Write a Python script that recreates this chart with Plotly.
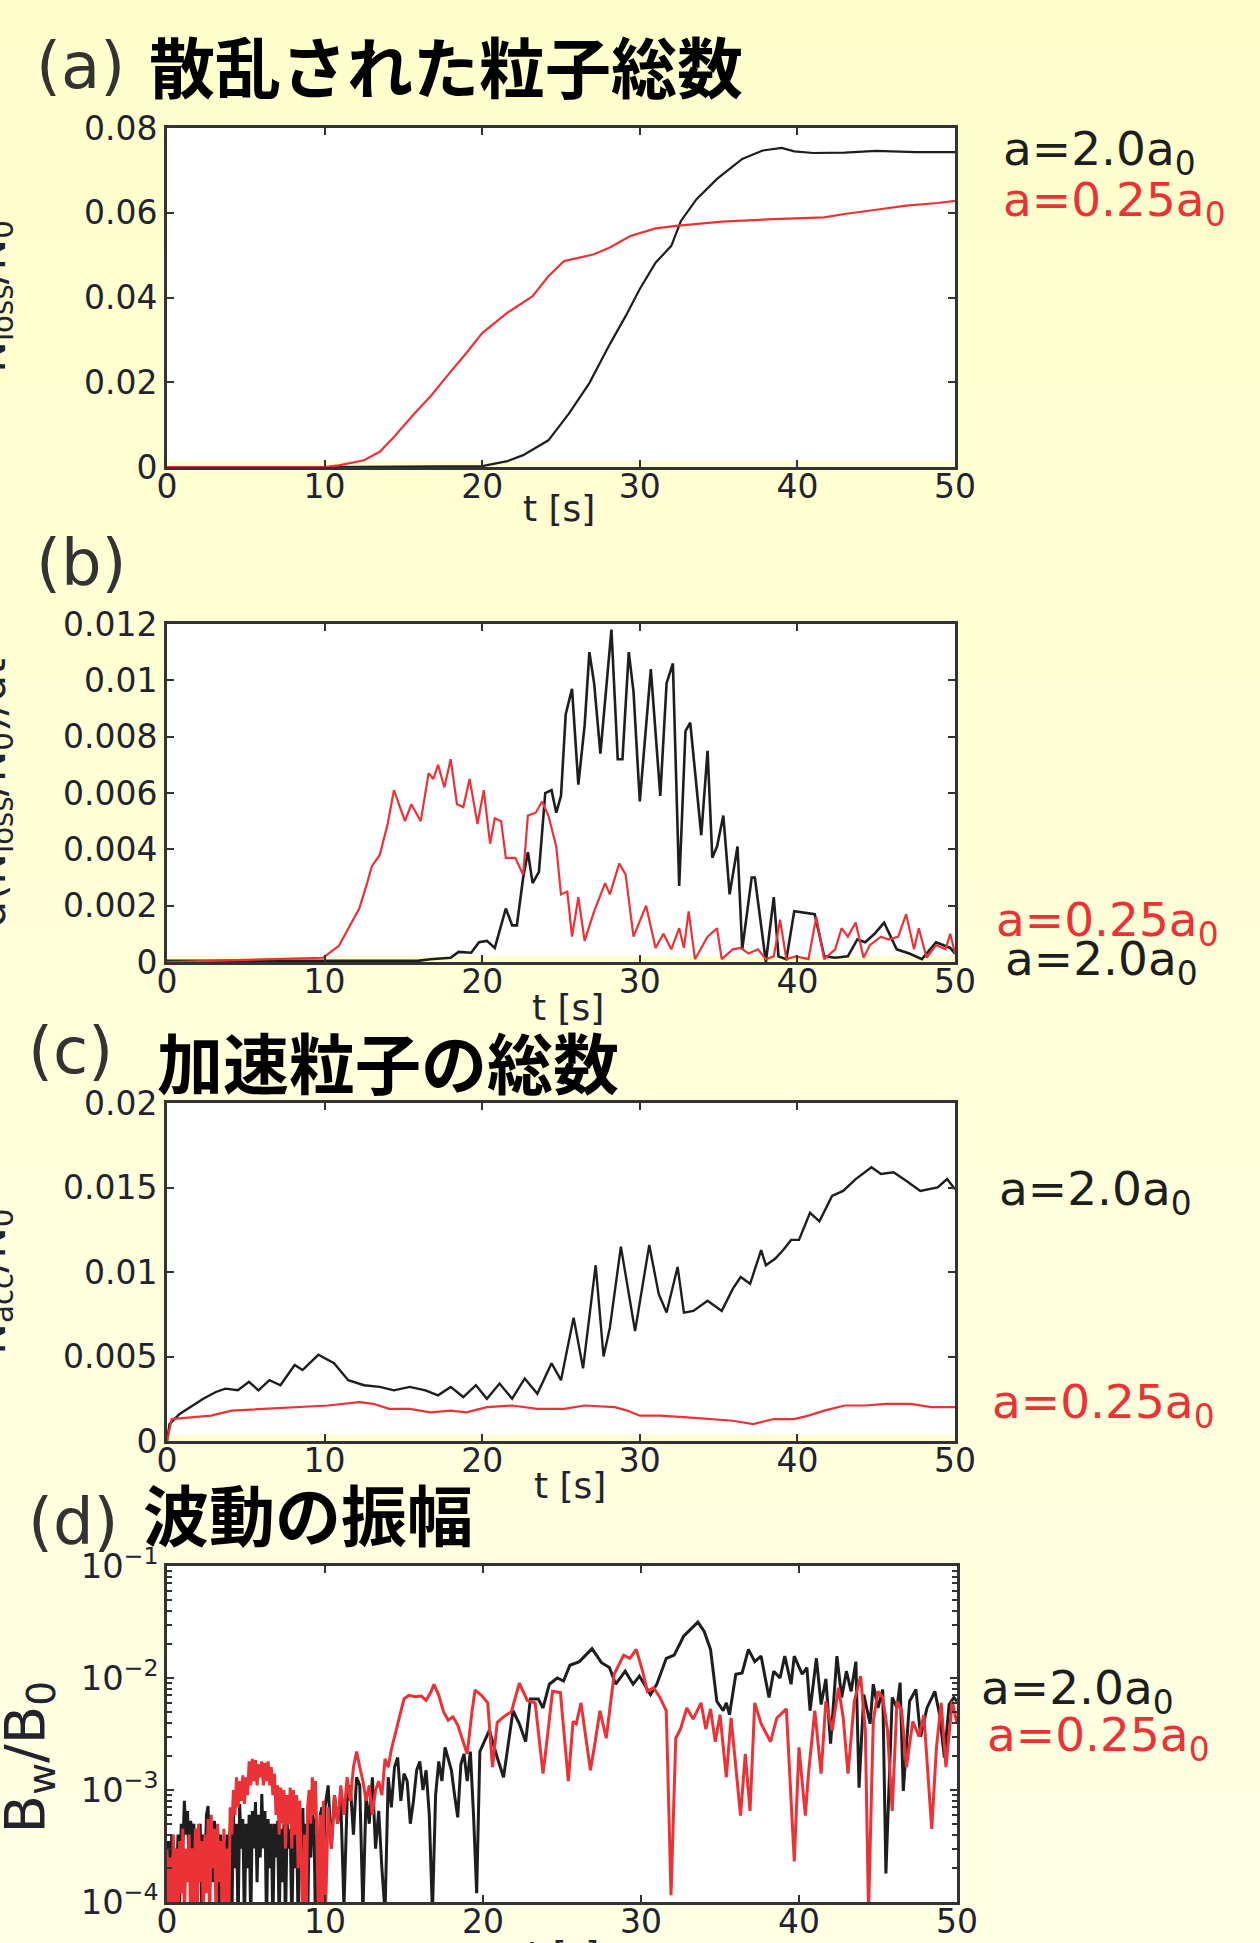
import plotly.graph_objects as go

# ---------------- data ----------------
# (a) total number of scattered particles, N_loss / N_0
ta_black = [0, 10, 20, 21.6, 22.6, 24.2, 25.5, 26.8, 28.1, 29.1, 30, 31, 32, 32.6, 33.6,
            34.9, 36.5, 37.8, 39, 39.8, 41, 43, 45, 47.5, 50]
na_black = [0, 0, 0.0002, 0.0014, 0.0028, 0.0063, 0.0126, 0.0198, 0.029, 0.0356, 0.042,
            0.0482, 0.0522, 0.058, 0.0632, 0.068, 0.0727, 0.0747, 0.0753, 0.0745, 0.0741,
            0.0742, 0.0746, 0.0743, 0.0743]
ta_red = [0, 10, 10.9, 12.5, 13.5, 14.4, 15.7, 16.7, 18, 19, 20, 21.6, 23.2, 24.2, 25.2,
          27.1, 28.1, 29.4, 31, 32.3, 35.2, 38.5, 41.7, 43, 45, 46.9, 48.9, 50]
na_red = [0, 0, 0.0004, 0.0016, 0.0036, 0.0071, 0.0126, 0.0166, 0.0225, 0.0269, 0.0316,
          0.0364, 0.0403, 0.045, 0.0486, 0.0502, 0.0518, 0.0545, 0.0563, 0.0569, 0.0579,
          0.0585, 0.0589, 0.0597, 0.0607, 0.0617, 0.0623, 0.0628]

# (b) loss rate, d(N_loss/N_0)/dt
tb_red = [0, 9.9, 10.9, 11.5, 12.2, 12.7, 13, 13.5, 14, 14.4, 15.1, 15.5, 16.1, 16.6, 16.9,
          17.2, 17.6, 18, 18.4, 18.8, 19.2, 19.7, 20.1, 20.5, 20.8, 21.2, 21.5, 22.1, 22.6,
          22.9, 23.4, 23.8, 24.2, 24.7, 25, 25.4, 25.7, 26.1, 26.5, 27.1, 27.8, 28.1, 28.7,
          29.1, 29.6, 30.4, 31, 31.5, 32, 32.5, 32.8, 33.1, 33.5, 34.3, 34.9, 35.2, 35.9,
          36.4, 36.9, 37.5, 38, 38.5, 38.9, 39.3, 39.9, 40.7, 41.2, 41.7, 42.4, 42.8, 43.2,
          43.7, 44.2, 44.6, 45.3, 45.8, 46.4, 46.9, 47.4, 47.7, 48.2, 48.8, 49.4, 49.7, 50]
rb_red = [0, 0.00015, 0.00057, 0.0012, 0.0019, 0.0028, 0.0034, 0.0038, 0.0049, 0.0061,
          0.005, 0.0056, 0.005, 0.0067, 0.0065, 0.007, 0.0062, 0.0072, 0.0056, 0.0055,
          0.0065, 0.0049, 0.0061, 0.0042, 0.0051, 0.005, 0.0037, 0.0037, 0.0031, 0.0052,
          0.0053, 0.0057, 0.0052, 0.0041, 0.0024, 0.0025, 0.0009, 0.0023, 0.00075, 0.0018,
          0.0028, 0.0024, 0.0035, 0.0031, 0.0009, 0.002, 0.0005, 0.001, 0.00045, 0.0012,
          0.0005, 0.0018, 0.0001, 0.0009, 0.0012, 0.0001, 0.00045, 0.0005, 0.0003, 0.00045,
          0.0001, 0.0002, 0.0015, 0.0001, 0.0002, 0.0001, 0.0016, 0.0001, 0.00045, 0.0012,
          0.0009, 0.0014, 0.00015, 0.0006, 0.0009, 0.0008, 0.0009, 0.0017, 0.00045, 0.0012,
          0.00015, 0.0006, 0.00045, 0.001, 0.0003]
tb_black = [0, 16, 16.7, 18, 18.5, 19.3, 19.8, 20.3, 20.8, 21.2, 21.5, 21.9, 22.2, 22.6,
            22.9, 23.2, 23.6, 24, 24.4, 24.7, 25, 25.3, 25.7, 26.1, 26.5, 26.8, 27.1, 27.5,
            27.8, 28.2, 28.6, 28.9, 29.3, 29.6, 30, 30.4, 30.7, 30.9, 31.3, 31.7, 32.1,
            32.5, 32.9, 33.2, 33.9, 34.3, 34.6, 34.9, 35.3, 35.7, 36.2, 36.5, 37.1, 37.3,
            38, 38.5, 38.8, 39.3, 39.8, 41.1, 41.7, 42.4, 43.2, 43.8, 44.3, 44.9, 45.5,
            46.3, 47.1, 47.9, 48.8, 49.7, 50]
rb_black = [0.00004, 0.00005, 0.0001, 0.00015, 0.00036, 0.00033, 0.0007, 0.00075, 0.0005,
            0.0013, 0.0019, 0.0013, 0.0013, 0.003, 0.0039, 0.0028, 0.0032, 0.006, 0.0061,
            0.0053, 0.0059, 0.0088, 0.0097, 0.0063, 0.0084, 0.011, 0.0099, 0.0074, 0.0094,
            0.0118, 0.0072, 0.0072, 0.011, 0.0096, 0.0057, 0.0083, 0.0104, 0.0089, 0.0059,
            0.0099, 0.0106, 0.0027, 0.0082, 0.0085, 0.0045, 0.0075, 0.0037, 0.0041, 0.0052,
            0.0024, 0.0041, 0.00045, 0.003, 0.003, 0, 0.0023, 0.0002, 0.0001, 0.0018,
            0.0017, 0.0002, 0.00015, 0.0002, 0.0008, 0.0007, 0.001, 0.0014, 0.00045,
            0.0003, 0.0001, 0.0007, 0.0005, 0.0003]

# (c) total number of accelerated particles, N_acc / N_0
tc_black = [0, 0.16, 0.8, 1.5, 2.3, 3.1, 3.7, 4.5, 5.2, 5.8, 6.5, 7.2, 8.1, 8.6, 9.6, 10.6,
            11.5, 12.5, 13.5, 14.4, 15.4, 16.4, 17.2, 18, 18.8, 19.6, 20.3, 21.1, 21.9,
            22.7, 23.5, 24.4, 25, 25.8, 26.4, 27.2, 27.7, 28.1, 28.8, 29.7, 30.6, 31.2,
            31.7, 32.4, 32.8, 33.4, 34.3, 35.2, 35.9, 36.4, 37, 37.7, 38, 38.6, 39.1, 39.6,
            40.1, 40.8, 41.4, 42.2, 42.9, 43.7, 44.7, 45.3, 46.1, 46.9, 47.8, 48.9, 49.5, 50]
nc_black = [0, 0.001, 0.0016, 0.002, 0.0025, 0.0029, 0.0031, 0.003, 0.0035, 0.003, 0.0036,
            0.0033, 0.0045, 0.0042, 0.0051, 0.0046, 0.0036, 0.0033, 0.0032, 0.003, 0.0032,
            0.003, 0.0027, 0.0032, 0.0026, 0.0033, 0.0025, 0.0034, 0.0025, 0.0037, 0.0028,
            0.0046, 0.0036, 0.0073, 0.0043, 0.0104, 0.005, 0.0067, 0.0115, 0.0065, 0.0116,
            0.0087, 0.0076, 0.0103, 0.0076, 0.0077, 0.0083, 0.0077, 0.009, 0.0097, 0.0093,
            0.0113, 0.0104, 0.0108, 0.0113, 0.0119, 0.0119, 0.0135, 0.013, 0.0145, 0.0148,
            0.0155, 0.0162, 0.0158, 0.0159, 0.0154, 0.0148, 0.015, 0.0155, 0.0149]
tc_red = [0, 0.3, 1.5, 2.8, 4.1, 6, 8, 10.2, 12.2, 13.1, 14.1, 15.4, 16.7, 18, 19, 20.3,
          21.9, 23.5, 25.2, 26.5, 28.4, 29.2, 30, 31.3, 33, 34.6, 35.9, 37.2, 38.5, 39.8,
          40.7, 41.7, 43, 44.3, 45.6, 47.2, 48.5, 50]
nc_red = [0, 0.0013, 0.0014, 0.0015, 0.0018, 0.0019, 0.002, 0.0021, 0.0023, 0.0022, 0.0019,
          0.0019, 0.0017, 0.0018, 0.0017, 0.002, 0.0021, 0.0019, 0.0019, 0.0021, 0.002,
          0.0018, 0.0015, 0.0015, 0.0014, 0.0013, 0.0012, 0.001, 0.0013, 0.0013, 0.0015,
          0.0018, 0.0021, 0.0021, 0.0022, 0.0022, 0.002, 0.002]

# (d) wave amplitude, B_w / B_0
td_red = [0, 0.1, 0.2, 0.3, 0.4, 0.5, 0.6, 0.7, 0.8, 0.9, 1, 1.1, 1.2, 1.3, 1.4, 1.5, 1.6,
          1.7, 1.8, 1.9, 2, 2.1, 2.2, 2.3, 2.4, 2.5, 2.6, 2.7, 2.8, 2.9, 3, 3.1, 3.2, 3.3,
          3.4, 3.5, 3.6, 3.7, 3.8, 3.9, 4, 4.1, 4.2, 4.3, 4.4, 4.5, 4.6, 4.7, 4.8, 4.9, 5,
          5.1, 5.2, 5.3, 5.4, 5.5, 5.6, 5.7, 5.8, 5.9, 6, 6.1, 6.2, 6.3, 6.4, 6.5, 6.6, 6.7,
          6.8, 6.9, 7, 7.1, 7.2, 7.3, 7.4, 7.5, 7.6, 7.7, 7.8, 7.9, 8, 8.1, 8.2, 8.3, 8.4,
          8.5, 8.6, 8.7, 8.8, 8.9, 9, 9.1, 9.2, 9.3, 9.4, 9.5, 9.6, 9.7, 9.8, 9.9,
          10, 10.2, 10.4, 10.6, 10.8, 11, 11.2, 11.4, 11.6, 11.8, 12, 12.2, 12.4, 12.6,
          12.8, 13, 13.2, 13.4, 13.6, 13.8, 14, 14.2,
          14.4, 14.7, 15, 15.3, 15.7, 16.1, 16.4, 16.7, 16.9, 17.2, 17.5, 17.8, 18.1,
          18.4, 18.7, 19, 19.3, 19.5, 19.9, 20.3, 20.6, 20.9, 21.3, 21.8, 22.3, 22.8, 23.3,
          23.6, 23.8, 24.1, 24.4, 24.9, 25.4, 25.7, 25.9, 26.2, 26.8, 27.1, 27.4, 27.8,
          28.3, 28.9, 29.3, 29.7, 30.1, 30.4, 30.8, 31.2, 31.6, 31.9, 32.2, 32.5, 32.9,
          33.3, 33.8, 34.1, 34.4, 34.7, 35, 35.4, 35.7, 36.3, 36.6, 36.9, 37.2, 37.6, 38.2,
          38.6, 39.2, 39.7, 40, 40.4, 40.6, 41, 41.4, 41.7, 42.1, 42.5, 42.8, 43.1, 43.5,
          43.9, 44.2, 44.4, 44.7, 45, 45.3, 45.6, 45.9, 46.2, 46.5, 46.8, 47.2, 47.6, 47.9,
          48.4, 48.7, 49, 49.3, 49.7, 50]
bd_red = [3e-4, 8e-5, 2.5e-4, 5e-5, 4e-4, 1e-4, 3e-4, 6e-5, 3.5e-4, 1.2e-4,
          4.5e-4, 7e-5, 3e-4, 1.5e-4, 4e-4, 6e-5, 3e-4, 1e-4, 4.5e-4, 5e-5,
          5e-4, 1.5e-4, 3.5e-4, 7e-5, 4e-4, 1.2e-4, 5.5e-4, 6e-5, 6e-4, 2e-4,
          4.5e-4, 8e-5, 5e-4, 1.5e-4, 3.5e-4, 6e-5, 4.5e-4, 1e-4, 3e-4, 5e-5,
          7e-4, 4e-4, 1e-3, 6e-4, 1.3e-3, 7e-4, 1.2e-3, 8e-4, 1.35e-3, 7.5e-4,
          1.3e-3, 9e-4, 1.8e-3, 1.1e-3, 1.9e-3, 1.2e-3, 1.85e-3, 1.1e-3, 1.7e-3, 1.3e-3,
          1.8e-3, 1.1e-3, 1.75e-3, 1.2e-3, 1.8e-3, 1.1e-3, 1.6e-3, 9e-4, 1.4e-3, 6e-4,
          1.1e-3, 4e-4, 1.05e-3, 5e-4, 1e-3, 3e-4, 9e-4, 5e-4, 1.05e-3, 3e-4,
          1e-3, 4e-4, 9e-4, 2e-4, 8e-4, 3e-4, 6e-5, 4e-4, 5e-5, 7e-4,
          1e-3, 5e-4, 1.3e-3, 6e-4, 1.2e-3, 3e-4, 5e-5, 6e-4, 4e-5, 8e-4,
          5e-5, 7e-4, 3e-4, 9e-4, 5e-4, 1.1e-3, 6e-4, 1.3e-3, 8e-4, 1.6e-3,
          2.2e-3, 1.6e-3, 1.2e-3, 8e-4, 1.1e-3, 6e-4, 1e-3, 1.2e-3, 9e-4, 1.9e-3,
          1.6e-3, 2.3e-3,
          3e-3, 4.5e-3, 6.5e-3, 7e-3, 6.8e-3, 6.9e-3, 6.3e-3, 7.5e-3, 8.8e-3, 7e-3,
          5e-3, 4.2e-3, 4.5e-3, 3.8e-3, 2.8e-3, 2.1e-3, 5e-3, 7.8e-3, 7e-3, 6e-3,
          1.6e-3, 4e-3, 4.5e-3, 5e-3, 9e-3, 6.3e-3, 6e-3,
          2.6e-3, 1.4e-3, 3.2e-3, 7.6e-3, 7.4e-3, 1.2e-3, 4.1e-3, 3.9e-3, 6e-3, 1.5e-3,
          2.7e-3, 5.1e-3, 2.9e-3, 1.08e-2, 1.6e-2, 1.5e-2, 1.8e-2, 1.15e-2, 7.6e-3, 8.2e-3,
          6.7e-3, 5.1e-3, 1.15e-4, 2.9e-3, 3.5e-3, 5.4e-3, 4.3e-3, 6e-3, 3.5e-3, 5.3e-3,
          2.7e-3, 4.7e-3, 1.3e-3, 4.4e-3, 5.9e-4, 2.1e-3, 6.5e-4, 6e-3, 3.9e-3, 2.7e-3,
          4.4e-3, 5.3e-3, 2.3e-4, 2.4e-3, 5.9e-4, 1.4e-3, 5.1e-3, 1.4e-3, 6.2e-3, 3.4e-3,
          8.2e-3, 4.4e-3, 1.4e-3, 6.2e-3, 1.04e-2, 3.4e-3, 8e-5, 4.1e-3, 7.6e-3, 6.7e-3,
          3.4e-3, 6.5e-4, 6.2e-3, 5.1e-3, 1.6e-3, 4.1e-3, 3e-3, 4.7e-3, 4.5e-4, 2.4e-3,
          6e-3, 1.6e-3, 6.2e-3, 3.9e-3]
td_black = [0, 0.1, 0.2, 0.3, 0.4, 0.5, 0.6, 0.7, 0.8, 0.9, 1, 1.1, 1.2, 1.3, 1.4, 1.5,
            1.6, 1.7, 1.8, 1.9, 2, 2.1, 2.2, 2.3, 2.4, 2.5, 2.6, 2.7, 2.8, 2.9, 3, 3.1, 3.2,
            3.3, 3.4, 3.5, 3.6, 3.7, 3.8, 3.9, 4, 4.1, 4.2, 4.3, 4.4, 4.5, 4.6, 4.7, 4.8,
            4.9, 5, 5.1, 5.2, 5.3, 5.4, 5.5, 5.6, 5.7, 5.8, 5.9, 6, 6.1, 6.2, 6.3, 6.4, 6.5,
            6.6, 6.7, 6.8, 6.9, 7, 7.1, 7.2, 7.3, 7.4, 7.5, 7.6, 7.7, 7.8, 7.9, 8, 8.1, 8.2,
            8.3, 8.4, 8.5, 8.6, 8.7, 8.8, 8.9, 9, 9.1, 9.2, 9.3, 9.4, 9.5, 9.6, 9.7, 9.8,
            9.9,
            10, 10.2, 10.4, 10.6, 10.8, 11, 11.2, 11.4, 11.6, 11.8, 12, 12.2, 12.4, 12.6,
            12.8, 13, 13.2, 13.4, 13.6, 13.8, 14, 14.2, 14.4, 14.6, 14.8, 15, 15.2, 15.4,
            15.6, 15.8, 16, 16.2, 16.4, 16.6, 16.8, 17, 17.2, 17.4, 17.6, 17.8, 18, 18.2,
            18.4, 18.6, 18.8, 19, 19.2, 19.4, 19.6, 19.8,
            20.4, 20.9, 21.3, 21.9, 22.3, 22.7, 23, 23.5, 23.8, 24.2,
            24.7, 25.1, 25.5, 26.1, 26.9, 27.5, 28, 28.4, 29, 29.5, 29.9, 30.6, 31, 31.6,
            32.1, 32.7, 33.6, 34, 34.4, 34.8, 35.2, 35.4, 35.6, 36, 36.4, 36.8, 37.2, 37.6,
            38.1, 38.4, 38.8, 39.1, 39.5, 39.7, 40.2, 40.5, 40.7, 41.1, 41.4, 41.7, 42,
            42.4, 42.7, 43, 43.3, 43.6, 43.8, 44.1, 44.5, 44.7, 45, 45.3, 45.5, 45.9, 46.2,
            46.4, 46.6, 47, 47.4, 47.7, 48.1, 48.6, 48.9, 49.2, 49.5, 49.8, 50]
bd_black = [2e-4, 3.5e-4, 1.2e-4, 4e-4, 8e-5, 3e-4, 1.5e-4, 4e-4, 1e-4, 5e-4,
            3e-4, 8e-4, 4e-4, 6.5e-4, 2e-4, 5.3e-4, 3e-4, 5e-4, 1.2e-4, 4.5e-4,
            2e-4, 5e-4, 8e-5, 4e-4, 2e-4, 6e-4, 7.2e-4, 2.5e-4, 5e-4, 1.5e-4,
            5.3e-4, 3e-4, 4.5e-4, 7e-5, 4e-4, 1.5e-4, 3.5e-4, 6e-5, 4e-4, 1e-4,
            5e-4, 6e-5, 6e-4, 2e-4, 5e-4, 6e-5, 7.5e-4, 3e-4, 5.5e-4, 6e-5,
            5e-4, 2e-4, 6e-4, 6e-5, 6.5e-4, 3e-4, 7.8e-4, 1.5e-4, 6e-4, 2.5e-4,
            9.2e-4, 3e-4, 6.5e-4, 6e-5, 5.5e-4, 2e-4, 5e-4, 6e-5, 5e-4, 2.5e-4,
            5.3e-4, 6e-5, 4.5e-4, 1.5e-4, 5e-4, 6e-5, 5.3e-4, 3e-4, 4.5e-4, 6e-5,
            4e-4, 2e-4, 5.5e-4, 6e-5, 5e-4, 3e-4, 6.9e-4, 1.2e-4, 5e-4, 6e-5,
            5.5e-4, 2.5e-4, 6.5e-4, 5e-4, 6e-5, 4e-4, 1.5e-4, 6e-4, 7e-4, 2e-4,
            7e-4, 1.1e-3, 3e-4, 9e-4, 5e-4, 8e-4, 9e-5, 8e-4, 1.1e-3, 4e-4,
            1.3e-3, 1.1e-3, 8e-5, 9e-4, 5e-4, 1.3e-3, 3e-4, 6.5e-4, 2e-4, 8e-5,
            1.3e-3, 7e-4, 1.6e-3, 1.95e-3, 8e-4, 1.4e-3, 1.2e-3, 5e-4, 8e-4, 1.5e-3,
            1.8e-3, 1e-3, 1.5e-3, 6e-4, 8e-5, 9e-4, 1.8e-3, 1.2e-3, 2.4e-3, 1.9e-3,
            1.5e-3, 9e-4, 5.7e-4, 1.7e-3, 2.1e-3, 1.2e-3, 2.2e-3, 6e-4, 1.2e-4, 2.2e-3,
            3.4e-3, 1.95e-3, 1.3e-3, 5.1e-3, 3.9e-3, 2.7e-3, 6.5e-3, 6.5e-3, 5.4e-3, 8.8e-3,
            1e-2, 9.4e-3, 1.3e-2, 1.4e-2, 1.83e-2, 1.37e-2, 1.24e-2, 8.8e-3, 1.15e-2, 8.8e-3,
            1.04e-2, 7.1e-3, 8.8e-3, 1.5e-2, 1.6e-2, 2.36e-2, 3.15e-2, 2.6e-2, 1.8e-2, 6.2e-3,
            5.1e-3, 6e-3, 4.7e-3, 1.08e-2, 1.11e-2, 1.8e-2, 1.4e-2, 1.57e-2, 6.7e-3, 1.15e-2,
            1e-2, 1.57e-2, 8.8e-3, 1.57e-2, 1.08e-2, 1.24e-2, 5.1e-3, 1.5e-2, 5.8e-3, 9.8e-3,
            2.6e-3, 1.57e-2, 6.7e-3, 1.15e-2, 7.6e-3, 1.4e-2, 1.05e-3, 7.1e-3, 3.9e-3, 8.8e-3,
            5.4e-3, 7.9e-3, 1.8e-4, 6.7e-3, 5.4e-3, 9.1e-3, 9.8e-4, 6.2e-3, 7.9e-3, 3e-3,
            5.4e-3, 7.6e-3, 4.7e-3, 1.95e-3, 5.8e-3, 6.7e-3, 6.2e-3]

for xs, ys in [(ta_black, na_black), (ta_red, na_red), (tb_red, rb_red),
               (tb_black, rb_black), (tc_black, nc_black), (tc_red, nc_red),
               (td_red, bd_red), (td_black, bd_black)]:
    assert len(xs) == len(ys), (len(xs), len(ys))

# ---------------- styling ----------------
W, H = 1260, 1943
RED = "#EB3236"
BLACK = "#1E1E1E"
AXIS = "#333333"
TEXT = "#23232F"
LATIN = "DejaVu Sans"
CJK = "Noto Sans CJK JP"


def fx(px):
    return px / W


def fy(py):
    return 1 - py / H


# plot boxes in pixels: left, right, top, bottom
boxes = {
    "": (167, 955, 128, 467),
    "2": (167, 955, 624, 962),
    "3": (167, 955, 1103, 1441),
    "4": (167, 957, 1566, 1902),
}


def axis_style():
    return dict(showline=True, linecolor=AXIS, linewidth=3, mirror="allticks",
                ticks="inside", ticklen=7, tickwidth=2, tickcolor=AXIS,
                showgrid=False, zeroline=False, automargin=False,
                tickfont=dict(family=LATIN, size=33, color=TEXT))


layout = dict(
    width=W, height=H, autosize=False,
    margin=dict(l=0, r=0, t=0, b=0, pad=0, autoexpand=False),
    paper_bgcolor="#FFFFD4",
    plot_bgcolor="rgba(0,0,0,0)",
    showlegend=False,
)

yranges = {"": [0, 0.08], "2": [0, 0.012], "3": [0, 0.02]}
ydticks = {"": 0.02, "2": 0.002, "3": 0.005}

for k, (l, r, t, b) in boxes.items():
    xa = axis_style()
    xa.update(domain=[fx(l), fx(r)], anchor="y" + k, range=[0, 50], dtick=10, tick0=0,
              ticklabelstandoff=-12)
    ya = axis_style()
    ya.update(domain=[fy(b), fy(t)], anchor="x" + k)
    if k == "4":
        ya.update(type="log", range=[-4, -1], dtick=1, exponentformat="power",
                  showexponent="all", tickfont=dict(family=LATIN, size=27, color=TEXT),
                  minor=dict(ticks="inside", ticklen=5, tickwidth=2, tickcolor=AXIS,
                             dtick="D1", showgrid=False))
    else:
        ya.update(range=yranges[k], dtick=ydticks[k], tick0=0)
    layout["xaxis" + k] = xa
    layout["yaxis" + k] = ya

# slide background: soft vertical yellow gradient, white plot areas on top
shapes = []
nb = 40
top_c, bot_c = (255, 255, 204), (255, 255, 228)
for i in range(nb):
    f = i / (nb - 1)
    c = tuple(round(top_c[j] + (bot_c[j] - top_c[j]) * f) for j in range(3))
    shapes.append(dict(type="rect", xref="paper", yref="paper", x0=0, x1=1,
                       y0=1 - (i + 1) / nb - 0.002, y1=1 - i / nb,
                       fillcolor="rgb(%d,%d,%d)" % c, line=dict(width=0), layer="below"))
for k, (l, r, t, b) in boxes.items():
    shapes.append(dict(type="rect", xref="paper", yref="paper", x0=fx(l), x1=fx(r),
                       y0=fy(b), y1=fy(t), fillcolor="white", line=dict(width=0),
                       layer="below"))
    if k != "4":
        shapes.append(dict(type="rect", xref="paper", yref="paper", x0=fx(l), x1=fx(r),
                           y0=fy(b), y1=fy(b - 6), fillcolor="#FFFFD6",
                           line=dict(width=0), layer="below"))
layout["shapes"] = shapes

# ---------------- traces ----------------
traces = [
    ("", ta_black, na_black, BLACK, 2.2),
    ("", ta_red, na_red, RED, 2.2),
    ("2", tb_black, rb_black, BLACK, 2.6),
    ("2", tb_red, rb_red, RED, 2.2),
    ("3", tc_black, nc_black, BLACK, 2.4),
    ("3", tc_red, nc_red, RED, 2.2),
    ("4", td_black, bd_black, BLACK, 3),
    ("4", td_red, bd_red, RED, 3),
]
fig = go.Figure()
for k, xs, ys, col, lw in traces:
    fig.add_trace(go.Scatter(x=xs, y=ys, mode="lines", line=dict(color=col, width=lw),
                             xaxis="x" + k, yaxis="y" + k, hoverinfo="skip"))

# ---------------- text ----------------
ann = []


def text(x, y, s, size, color=TEXT, family=LATIN, xanchor="left", yanchor="middle",
         angle=0, weight="normal"):
    ann.append(dict(x=fx(x), y=fy(y), xref="paper", yref="paper", text=s,
                    showarrow=False, xanchor=xanchor, yanchor=yanchor, textangle=angle,
                    font=dict(family=family, size=size, color=color, weight=weight)))


# panel headings
text(34, 66, "(a)", 64, color="#333333")
text(147, 64, "散乱された粒子総数", 66, color="black", family=CJK, weight="bold")
text(34, 563, "(b)", 64, color="#333333")
text(26, 1051, "(c)", 64, color="#333333")
text(155, 1060, "加速粒子の総数", 66, color="black", family=CJK, weight="bold")
text(26, 1522, "(d)", 64, color="#333333")
text(141, 1512, "波動の振幅", 66, color="black", family=CJK, weight="bold")

# series labels
lab2 = "a=2.0a<sub>0</sub>"
lab025 = "a=0.25a<sub>0</sub>"
text(1001, 152, lab2, 47, color=BLACK)
text(1001, 203, lab025, 47, color=RED)
text(994, 923, lab025, 47, color=RED)
text(1003, 962, lab2, 47, color=BLACK)
text(997, 1192, lab2, 47, color=BLACK)
text(990, 1405, lab025, 47, color=RED)
text(979, 1691, lab2, 47, color=BLACK)
text(985, 1738, lab025, 47, color=RED)

# time axis titles
text(559, 508, "t [s]", 36, xanchor="center")
text(568, 1008, "t [s]", 36, xanchor="center")
text(570, 1485, "t [s]", 36, xanchor="center")
text(563, 1932, "t [s]", 36, xanchor="center", yanchor="top")

# vertical axis titles
text(22, 297, "N<sub>loss</sub>/N<sub>0</sub>", 42, xanchor="right", angle=-90)
text(22, 793, "d(N<sub>loss</sub>/N<sub>0</sub>)/dt", 42, xanchor="right", angle=-90)
text(22, 1282, "N<sub>acc</sub>/N<sub>0</sub>", 42, xanchor="right", angle=-90)
text(66, 1757, "B<sub>w</sub>/B<sub>0</sub>", 56, xanchor="right", angle=-90)

layout["annotations"] = ann
fig.update_layout(**layout)
fig.write_html("out.html")
